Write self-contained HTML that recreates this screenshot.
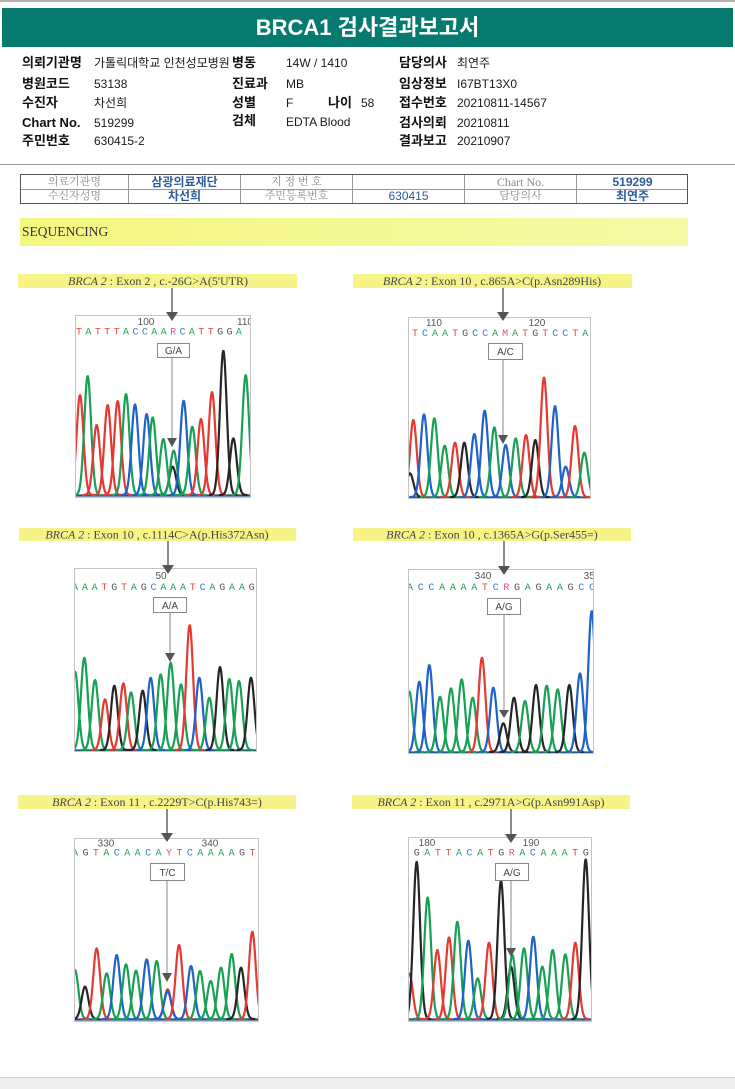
<!DOCTYPE html>
<html><head><meta charset="utf-8">
<style>
html,body{margin:0;padding:0;background:#fff}
#pg{position:relative;width:735px;height:1089px;overflow:hidden;background:#fff;font-family:"Liberation Sans","Noto Sans CJK KR",sans-serif}
.t{position:absolute;font-size:12px;line-height:16px;white-space:nowrap;color:#1a1a1a}
.b{font-weight:bold;font-size:13px;color:#111}
.tb{position:absolute;left:20px;top:174px;width:668px;height:30px;border:1px solid #555;box-sizing:border-box}
.c{position:absolute;height:15px;line-height:15px;text-align:center;font-size:11px;white-space:nowrap}
.g{color:#8a8a8a;font-family:"Liberation Serif","Noto Serif CJK SC",serif}
.v{color:#2d5b9a;font-weight:bold;font-family:"Liberation Sans","Noto Sans CJK KR",sans-serif;font-size:12px}
svg text{font-family:"Liberation Sans",sans-serif}
.lb{font-family:"Liberation Serif",serif;font-size:12px;fill:#444}
.sq{font-family:"Liberation Mono",monospace;font-size:10px}
.nm{font-size:10px;fill:#555}
.A{fill:#22a55a}.C{fill:#3a78cc}.G{fill:#555}.T{fill:#e2483f}.X{fill:#e0509a}
.bx{font-size:10px;fill:#444}
</style></head><body>
<div id="pg">
<div style="position:absolute;left:0;top:0;width:735px;height:2px;background:#b0b0b0"></div>
<div style="position:absolute;left:2px;top:8px;width:731px;height:39px;background:#067a6f;color:#fff;font-weight:bold;font-size:22px;line-height:39px;text-align:center">BRCA1 검사결과보고서</div>

<div class="t b" style="left:22px;top:55px">의뢰기관명</div>
<div class="t" style="left:94px;top:55px">가톨릭대학교 인천성모병원</div>
<div class="t b" style="left:232px;top:55px;background:transparent">병동</div>
<div class="t" style="left:286px;top:55px">14W / 1410</div>
<div class="t b" style="left:399px;top:55px">담당의사</div>
<div class="t" style="left:457px;top:55px">최연주</div>

<div class="t b" style="left:22px;top:76px">병원코드</div>
<div class="t" style="left:94px;top:76px">53138</div>
<div class="t b" style="left:232px;top:76px">진료과</div>
<div class="t" style="left:286px;top:76px">MB</div>
<div class="t b" style="left:399px;top:76px">임상정보</div>
<div class="t" style="left:457px;top:76px">I67BT13X0</div>

<div class="t b" style="left:22px;top:95px">수진자</div>
<div class="t" style="left:94px;top:95px">차선희</div>
<div class="t b" style="left:232px;top:95px">성별</div>
<div class="t" style="left:286px;top:95px">F</div>
<div class="t b" style="left:328px;top:95px">나이</div>
<div class="t" style="left:361px;top:95px">58</div>
<div class="t b" style="left:399px;top:95px">접수번호</div>
<div class="t" style="left:457px;top:95px">20210811-14567</div>

<div class="t b" style="left:22px;top:115px">Chart No.</div>
<div class="t" style="left:94px;top:115px">519299</div>
<div class="t b" style="left:232px;top:113px">검체</div>
<div class="t" style="left:286px;top:114px">EDTA Blood</div>
<div class="t b" style="left:399px;top:115px">검사의뢰</div>
<div class="t" style="left:457px;top:115px">20210811</div>

<div class="t b" style="left:22px;top:133px">주민번호</div>
<div class="t" style="left:94px;top:133px">630415-2</div>
<div class="t b" style="left:399px;top:133px">결과보고</div>
<div class="t" style="left:457px;top:133px">20210907</div>

<div style="position:absolute;left:0;top:164px;width:735px;height:1px;background:#999"></div>

<div class="tb">
  <div style="position:absolute;left:0;top:14px;width:666px;height:1px;background:#999"></div>
  <div style="position:absolute;left:107px;top:0;width:1px;height:28px;background:#999"></div>
  <div style="position:absolute;left:219px;top:0;width:1px;height:28px;background:#999"></div>
  <div style="position:absolute;left:331px;top:0;width:1px;height:28px;background:#999"></div>
  <div style="position:absolute;left:443px;top:0;width:1px;height:28px;background:#999"></div>
  <div style="position:absolute;left:555px;top:0;width:1px;height:28px;background:#999"></div>
  <div class="c g" style="left:0;top:0;width:107px">의료기관명</div>
  <div class="c v" style="left:108px;top:0;width:111px">삼광의료재단</div>
  <div class="c g" style="left:220px;top:0;width:111px">지 정 번 호</div>
  <div class="c g" style="left:444px;top:0;width:111px;font-size:12px">Chart No.</div>
  <div class="c v" style="left:556px;top:0;width:111px">519299</div>
  <div class="c g" style="left:0;top:14px;width:107px">수신자성명</div>
  <div class="c v" style="left:108px;top:14px;width:111px">차선희</div>
  <div class="c g" style="left:220px;top:14px;width:111px">주민등록번호</div>
  <div class="c v" style="left:332px;top:14px;width:111px;font-weight:normal">630415</div>
  <div class="c g" style="left:444px;top:14px;width:111px">담당의사</div>
  <div class="c v" style="left:556px;top:14px;width:111px">최연주</div>
</div>

<div style="position:absolute;left:20px;top:218px;width:668px;height:28px;background:linear-gradient(90deg,#f3f77f,#f6f8a6);"></div>
<div style="position:absolute;left:22px;top:224px;font-family:'Liberation Serif',serif;font-size:13.5px;line-height:16px;color:#333">SEQUENCING</div>

<svg width="735" height="1089" viewBox="0 0 735 1089" style="position:absolute;left:0;top:0">
<defs>
<clipPath id="c1"><rect x="76" y="316" width="174" height="181"/></clipPath>
<clipPath id="c2"><rect x="409" y="318" width="181" height="180"/></clipPath>
<clipPath id="c3"><rect x="75" y="569" width="181" height="182"/></clipPath>
<clipPath id="c4"><rect x="409" y="570" width="184" height="183"/></clipPath>
<clipPath id="c5"><rect x="75" y="839" width="183" height="182"/></clipPath>
<clipPath id="c6"><rect x="409" y="838" width="182" height="183"/></clipPath>
</defs>

<!-- Panel 1 -->
<rect x="18" y="274" width="279" height="14" fill="#f6f488"/>
<text x="158" y="285" text-anchor="middle" class="lb"><tspan font-style="italic">BRCA 2</tspan> : Exon 2 , c.-26G&gt;A(5'UTR)</text>
<rect x="75.5" y="315.5" width="175" height="182" fill="#fff" stroke="#c4c4c4"/>
<g clip-path="url(#c1)">
<text x="146" y="325" text-anchor="middle" class="nm">100</text>
<text x="245" y="325" text-anchor="middle" class="nm">110</text>
<text x="76" y="334.5" class="sq" letter-spacing="3.4"><tspan class="T">T</tspan><tspan class="A">A</tspan><tspan class="T">T</tspan><tspan class="T">T</tspan><tspan class="T">T</tspan><tspan class="A">A</tspan><tspan class="C">C</tspan><tspan class="C">C</tspan><tspan class="A">A</tspan><tspan class="A">A</tspan><tspan class="X">R</tspan><tspan class="C">C</tspan><tspan class="A">A</tspan><tspan class="T">T</tspan><tspan class="T">T</tspan><tspan class="G">G</tspan><tspan class="G">G</tspan><tspan class="A">A</tspan></text>
<g id="pk1"></g>
</g>
<line x1="172" y1="288" x2="172" y2="313" stroke="#666" stroke-width="1.5"/>
<polygon points="166,312 178,312 172,321" fill="#555"/>
<rect x="157.5" y="343.5" width="32" height="14" fill="#fff" stroke="#888"/>
<text x="173.5" y="354" text-anchor="middle" class="bx">G/A</text>
<line x1="172" y1="358" x2="172" y2="439" stroke="#888" stroke-width="1"/>
<polygon points="167,438 177,438 172,447" fill="#555"/>

<!-- Panel 2 -->
<rect x="353" y="274" width="279" height="14" fill="#f6f488"/>
<text x="492" y="285" text-anchor="middle" class="lb"><tspan font-style="italic">BRCA 2</tspan> : Exon 10 , c.865A&gt;C(p.Asn289His)</text>
<rect x="408.5" y="317.5" width="182" height="181" fill="#fff" stroke="#c4c4c4"/>
<g clip-path="url(#c2)">
<text x="434" y="326" text-anchor="middle" class="nm">110</text>
<text x="537" y="326" text-anchor="middle" class="nm">120</text>
<text x="412" y="336" class="sq" letter-spacing="4"><tspan class="T">T</tspan><tspan class="C">C</tspan><tspan class="A">A</tspan><tspan class="A">A</tspan><tspan class="T">T</tspan><tspan class="G">G</tspan><tspan class="C">C</tspan><tspan class="C">C</tspan><tspan class="A">A</tspan><tspan class="X">M</tspan><tspan class="A">A</tspan><tspan class="T">T</tspan><tspan class="G">G</tspan><tspan class="T">T</tspan><tspan class="C">C</tspan><tspan class="C">C</tspan><tspan class="T">T</tspan><tspan class="A">A</tspan><tspan class="G">G</tspan></text>
<g id="pk2"></g>
</g>
<line x1="503" y1="288" x2="503" y2="313" stroke="#666" stroke-width="1.5"/>
<polygon points="497,312 509,312 503,321" fill="#555"/>
<rect x="488.5" y="343.5" width="34" height="16" fill="#fff" stroke="#888"/>
<text x="505.5" y="355" text-anchor="middle" class="bx">A/C</text>
<line x1="503" y1="360" x2="503" y2="436" stroke="#888" stroke-width="1"/>
<polygon points="498,435 508,435 503,444" fill="#555"/>

<!-- Panel 3 -->
<rect x="19" y="528" width="277" height="13" fill="#f6f488"/>
<text x="157" y="538.5" text-anchor="middle" class="lb"><tspan font-style="italic">BRCA 2</tspan> : Exon 10 , c.1114C&gt;A(p.His372Asn)</text>
<rect x="74.5" y="568.5" width="182" height="183" fill="#fff" stroke="#c4c4c4"/>
<g clip-path="url(#c3)">
<text x="161" y="579" text-anchor="middle" class="nm">50</text>
<text x="72" y="590" class="sq" letter-spacing="3.8"><tspan class="A">A</tspan><tspan class="A">A</tspan><tspan class="A">A</tspan><tspan class="T">T</tspan><tspan class="G">G</tspan><tspan class="T">T</tspan><tspan class="A">A</tspan><tspan class="G">G</tspan><tspan class="C">C</tspan><tspan class="A">A</tspan><tspan class="A">A</tspan><tspan class="A">A</tspan><tspan class="T">T</tspan><tspan class="C">C</tspan><tspan class="A">A</tspan><tspan class="G">G</tspan><tspan class="A">A</tspan><tspan class="A">A</tspan><tspan class="G">G</tspan></text>
<g id="pk3"></g>
</g>
<line x1="168" y1="541" x2="168" y2="566" stroke="#666" stroke-width="1.5"/>
<polygon points="162,565 174,565 168,574" fill="#555"/>
<rect x="153.5" y="597.5" width="33" height="15" fill="#fff" stroke="#888"/>
<text x="170" y="609" text-anchor="middle" class="bx">A/A</text>
<line x1="170" y1="613" x2="170" y2="654" stroke="#888" stroke-width="1"/>
<polygon points="165,653 175,653 170,662" fill="#555"/>

<!-- Panel 4 -->
<rect x="353" y="528" width="278" height="13" fill="#f6f488"/>
<text x="492" y="538.5" text-anchor="middle" class="lb"><tspan font-style="italic">BRCA 2</tspan> : Exon 10 , c.1365A&gt;G(p.Ser455=)</text>
<rect x="408.5" y="569.5" width="185" height="184" fill="#fff" stroke="#c4c4c4"/>
<g clip-path="url(#c4)">
<text x="483" y="579" text-anchor="middle" class="nm">340</text>
<text x="592" y="579" text-anchor="middle" class="nm">350</text>
<text x="407" y="590" class="sq" letter-spacing="4.7"><tspan class="A">A</tspan><tspan class="C">C</tspan><tspan class="C">C</tspan><tspan class="A">A</tspan><tspan class="A">A</tspan><tspan class="A">A</tspan><tspan class="A">A</tspan><tspan class="T">T</tspan><tspan class="C">C</tspan><tspan class="X">R</tspan><tspan class="G">G</tspan><tspan class="A">A</tspan><tspan class="G">G</tspan><tspan class="A">A</tspan><tspan class="A">A</tspan><tspan class="G">G</tspan><tspan class="C">C</tspan><tspan class="C">C</tspan></text>
<g id="pk4"></g>
</g>
<line x1="504" y1="541" x2="504" y2="567" stroke="#666" stroke-width="1.5"/>
<polygon points="498,566 510,566 504,575" fill="#555"/>
<rect x="487.5" y="598.5" width="33" height="16" fill="#fff" stroke="#888"/>
<text x="504" y="610" text-anchor="middle" class="bx">A/G</text>
<line x1="504" y1="615" x2="504" y2="711" stroke="#888" stroke-width="1"/>
<polygon points="499,710 509,710 504,718" fill="#555"/>

<!-- Panel 5 -->
<rect x="18" y="795" width="278" height="14" fill="#f6f488"/>
<text x="157" y="806" text-anchor="middle" class="lb"><tspan font-style="italic">BRCA 2</tspan> : Exon 11 , c.2229T&gt;C(p.His743=)</text>
<rect x="74.5" y="838.5" width="184" height="183" fill="#fff" stroke="#c4c4c4"/>
<g clip-path="url(#c5)">
<text x="106" y="846.5" text-anchor="middle" class="nm">330</text>
<text x="210" y="846.5" text-anchor="middle" class="nm">340</text>
<text x="72" y="855.5" class="sq" letter-spacing="4.43"><tspan class="A">A</tspan><tspan class="G">G</tspan><tspan class="T">T</tspan><tspan class="A">A</tspan><tspan class="C">C</tspan><tspan class="A">A</tspan><tspan class="A">A</tspan><tspan class="C">C</tspan><tspan class="A">A</tspan><tspan class="X">Y</tspan><tspan class="T">T</tspan><tspan class="C">C</tspan><tspan class="A">A</tspan><tspan class="A">A</tspan><tspan class="A">A</tspan><tspan class="A">A</tspan><tspan class="G">G</tspan><tspan class="T">T</tspan></text>
<g id="pk5"></g>
</g>
<line x1="167" y1="809" x2="167" y2="834" stroke="#666" stroke-width="1.5"/>
<polygon points="161,833 173,833 167,842" fill="#555"/>
<rect x="150.5" y="863.5" width="34" height="17" fill="#fff" stroke="#888"/>
<text x="167.5" y="876" text-anchor="middle" class="bx">T/C</text>
<line x1="167" y1="881" x2="167" y2="974" stroke="#888" stroke-width="1"/>
<polygon points="162,973 172,973 167,982" fill="#555"/>

<!-- Panel 6 -->
<rect x="352" y="795" width="278" height="14" fill="#f6f488"/>
<text x="491" y="806" text-anchor="middle" class="lb"><tspan font-style="italic">BRCA 2</tspan> : Exon 11 , c.2971A&gt;G(p.Asn991Asp)</text>
<rect x="408.5" y="837.5" width="183" height="184" fill="#fff" stroke="#c4c4c4"/>
<g clip-path="url(#c6)">
<text x="427" y="846" text-anchor="middle" class="nm">180</text>
<text x="531" y="846" text-anchor="middle" class="nm">190</text>
<text x="413.7" y="855.5" class="sq" letter-spacing="4.56"><tspan class="G">G</tspan><tspan class="A">A</tspan><tspan class="T">T</tspan><tspan class="T">T</tspan><tspan class="A">A</tspan><tspan class="C">C</tspan><tspan class="A">A</tspan><tspan class="T">T</tspan><tspan class="G">G</tspan><tspan class="X">R</tspan><tspan class="A">A</tspan><tspan class="C">C</tspan><tspan class="A">A</tspan><tspan class="A">A</tspan><tspan class="A">A</tspan><tspan class="T">T</tspan><tspan class="G">G</tspan></text>
<g id="pk6"></g>
</g>
<line x1="511" y1="809" x2="511" y2="835" stroke="#666" stroke-width="1.5"/>
<polygon points="505,834 517,834 511,843" fill="#555"/>
<rect x="495.5" y="863.5" width="33" height="17" fill="#fff" stroke="#888"/>
<text x="512" y="876" text-anchor="middle" class="bx">A/G</text>
<line x1="511" y1="881" x2="511" y2="949" stroke="#888" stroke-width="1"/>
<polygon points="506,948 516,948 511,957" fill="#555"/>
</svg>

<div style="position:absolute;left:0;top:1077px;width:735px;height:12px;background:#efefef;border-top:1px solid #d0d0d0"></div>
</div>
<script>
(function(){
var col={r:'#e53a32',g:'#18a055',b:'#1f62c8',k:'#262626'};
var P=[
{id:'pk1',ox:0,oy:260,base:495,x0:75,x1:250,pk:[[240,405,'r'],[263,348,'g'],[290,495,'r'],[323,435,'r'],[353,423,'r'],[378,402,'g'],[405,433,'b'],[440,462,'b'],[458,472,'g'],[490,537,'g'],[518,620,'k'],[521,572,'g'],[551,422,'b'],[577,500,'g'],[603,477,'r'],[636,396,'r'],[670,272,'k'],[700,535,'k'],[737,345,'g']]},
{id:'pk2',ox:340,oy:260,base:497,x0:408,x1:590,pk:[[210,640,'k'],[220,480,'r'],[252,463,'b'],[283,475,'g'],[314,557,'g'],[345,548,'r'],[373,548,'k'],[403,522,'b'],[434,452,'b'],[463,502,'g'],[497,555,'b'],[527,535,'g'],[558,525,'r'],[586,540,'k'],[612,352,'r'],[645,438,'b'],[677,620,'b'],[705,498,'r'],[733,578,'g']]},
{id:'pk3',ox:0,oy:515,base:750,x0:74,x1:256,pk:[[225,470,'g'],[253,428,'g'],[285,495,'g'],[315,553,'r'],[343,512,'k'],[370,505,'r'],[393,532,'g'],[428,527,'k'],[452,488,'b'],[482,478,'g'],[512,443,'g'],[543,508,'g'],[569,330,'r'],[598,488,'b'],[628,548,'g'],[660,456,'k'],[688,492,'g'],[717,498,'g'],[753,488,'k']]},
{id:'pk4',ox:340,oy:515,base:752,x0:408,x1:593,pk:[[208,530,'g'],[238,500,'b'],[268,450,'b'],[300,545,'g'],[333,520,'g'],[365,493,'g'],[398,548,'g'],[426,428,'r'],[460,518,'b'],[490,625,'k'],[522,548,'k'],[555,558,'g'],[588,510,'k'],[620,512,'g'],[653,523,'g'],[688,510,'k'],[720,475,'b'],[755,288,'b']]},
{id:'pk5',ox:0,oy:780,base:1019,x0:74,x1:258,pk:[[225,570,'g'],[255,620,'k'],[290,505,'r'],[320,580,'g'],[350,525,'b'],[378,553,'g'],[408,572,'g'],[440,538,'b'],[470,543,'g'],[503,628,'r'],[503,634,'b'],[537,495,'r'],[573,558,'b'],[600,573,'g'],[632,603,'g'],[663,563,'g'],[695,522,'g'],[723,563,'k'],[757,455,'r']]},
{id:'pk6',ox:340,oy:780,base:1019,x0:408,x1:591,pk:[[208,580,'r'],[230,245,'k'],[263,352,'g'],[292,510,'r'],[327,472,'r'],[352,425,'g'],[385,482,'b'],[413,595,'g'],[447,488,'r'],[483,302,'k'],[513,560,'k'],[517,525,'g'],[552,505,'g'],[580,470,'b'],[607,560,'g'],[638,510,'g'],[676,523,'g'],[706,488,'r'],[737,238,'k']]}
];
var NS='http://www.w3.org/2000/svg';
function mk(d,c,w){var p=document.createElementNS(NS,'path');p.setAttribute('d',d);p.setAttribute('fill','none');p.setAttribute('stroke',c);p.setAttribute('stroke-width',w);p.setAttribute('stroke-linejoin','round');return p;}
P.forEach(function(o){
  var g=document.getElementById(o.id);
  g.appendChild(mk('M'+o.x0+' '+(o.base+0.5)+'L'+o.x1+' '+(o.base+0.5),'#2a4f8a',2.2));
  var s=3.4;
  o.pk.forEach(function(p){
    var x=o.ox+p[0]/3, top=o.oy+p[1]/3, h=o.base-top, d='';
    for(var t=-4.2*s;t<=4.2*s+0.01;t+=0.5){
      var y=o.base-h*Math.exp(-t*t/(2*s*s));
      d+=(d?'L':'M')+(x+t).toFixed(2)+' '+y.toFixed(2);
    }
    g.appendChild(mk(d,col[p[2]],2.2));
  });
});
})();
</script>
</body></html>
